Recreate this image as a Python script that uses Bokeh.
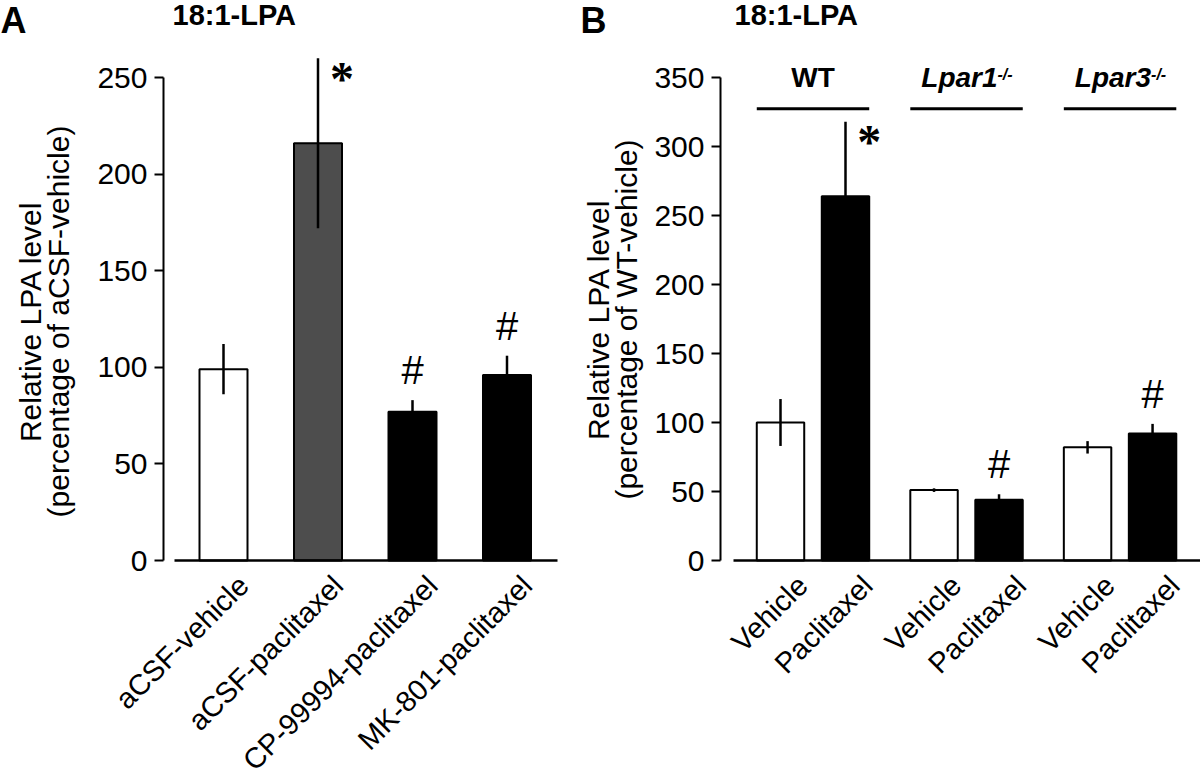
import math
from bokeh.plotting import figure
from bokeh.models import Range1d, FixedTicker, ColumnDataSource, LinearAxis
from bokeh.layouts import row
from bokeh.embed import file_html
from bokeh.resources import INLINE
from bokeh.core.properties import value

# ---------------- data ----------------
TITLE = "18:1-LPA"

A_labels = ["aCSF-vehicle", "aCSF-paclitaxel", "CP-99994-paclitaxel", "MK-801-paclitaxel"]
A_means = [99, 216, 77, 96]
A_sems = [13, 44, 6, 10]
A_marks = ["", "*", "#", "#"]
A_fill = ["white", "#4d4d4d", "black", "black"]
A_yticks = [0, 50, 100, 150, 200, 250]
A_ylabel = ["Relative LPA level", "(percentage of aCSF-vehicle)"]

B_groups = ["WT", "Lpar1", "Lpar3"]
B_group_sup = ["", "-/-", "-/-"]
B_treatments = ["Vehicle", "Paclitaxel"]
B_means = [100, 264, 51, 44, 82, 92]
B_sems = [17, 54, 1.3, 4, 4.5, 7]
B_marks = ["", "*", "", "#", "", "#"]
B_fill = ["white", "black"]
B_yticks = [0, 50, 100, 150, 200, 250, 300, 350]
B_ylabel = ["Relative LPA level", "(percentage of WT-vehicle)"]

# ---------------- layout constants ----------------
FONT = "Liberation Sans"
H = 776
Y0_PX = 560  # pixel row of value 0


class Panel:
    def __init__(self, width, ox, sx, sy):
        self.ox, self.sx, self.sy = ox, sx, sy  # ox: pixel column of x=0
        self.p = figure(width=width, height=H,
                        x_range=Range1d(self.xd(0), self.xd(width)),
                        y_range=Range1d(self.yd(H), self.yd(0)),
                        output_backend="svg", toolbar_location=None,
                        x_axis_location=None, y_axis_location=None, min_border=0)
        self.p.outline_line_color = None
        self.p.grid.visible = False
        self.p.xgrid.grid_line_color = None
        self.p.ygrid.grid_line_color = None
        self.p.background_fill_color = "white"
        self.p.border_fill_color = "white"

    def xd(self, px):
        return (px - self.ox) / self.sx

    def yd(self, py):
        return (Y0_PX - py) / self.sy

    def axes(self, yaxis_px, xbounds_px, yticks):
        p = self.p
        ya = LinearAxis(fixed_location=self.xd(yaxis_px), ticker=FixedTicker(ticks=yticks),
                        bounds=(0, yticks[-1]))
        ya.axis_line_width = 2
        ya.axis_line_color = "black"
        ya.major_tick_line_width = 2
        ya.major_tick_line_color = "black"
        ya.major_tick_out = 9
        ya.major_tick_in = 0
        ya.minor_tick_line_color = None
        ya.major_label_standoff = 7
        ya.major_label_text_font = FONT
        ya.major_label_text_font_size = "30px"
        ya.major_label_text_color = "black"
        p.add_layout(ya, "left")
        xa = LinearAxis(fixed_location=0, ticker=FixedTicker(ticks=[]),
                        bounds=(self.xd(xbounds_px[0]), self.xd(xbounds_px[1])))
        xa.axis_line_width = 2.5
        xa.axis_line_color = "black"
        xa.major_tick_line_color = None
        xa.minor_tick_line_color = None
        xa.major_label_text_font_size = "0px"
        p.add_layout(xa, "below")

    def txt(self, x, y, s, size, style="normal", angle=0.0, align="left",
            baseline="middle", font=FONT):
        self.p.text(x=[x], y=[y], text=[s], text_font=value(font),
                    text_font_size=f"{size}px", text_font_style=style, angle=angle,
                    text_align=align, text_baseline=baseline, text_color="black")

    def bars(self, pos, means, sems, fills, width):
        src = ColumnDataSource(dict(x=pos, top=means, fill=fills,
                                    lo=[m - s for m, s in zip(means, sems)],
                                    hi=[m + s for m, s in zip(means, sems)]))
        self.p.vbar(x="x", top="top", bottom=0, width=width, fill_color="fill",
                    line_color="black", line_width=2, source=src)
        self.p.segment(x0="x", y0="lo", x1="x", y1="hi", line_color="black",
                       line_width=2.5, source=src)

    def marks(self, pos, means, sems, marks, width):
        for i, mk in enumerate(marks):
            top = means[i] + sems[i]
            if mk == "#":
                self.txt(pos[i], top + 30 / self.sy, "#", 40, align="center")
            elif mk == "*":
                self.txt(pos[i] + width / 2, top - 20 / self.sy, "*", 48, style="bold",
                         align="center", font="Liberation Serif")


# ================= Panel A =================
A = Panel(580, ox=223, sx=94.5, sy=1.932)
A_pos = list(range(len(A_labels)))
A_w = 0.508
A.axes(163, (174, 557), A_yticks)
A.bars(A_pos, A_means, A_sems, A_fill, A_w)
A.marks(A_pos, A_means, A_sems, A_marks, A_w)
for i, lab in enumerate(A_labels):
    A.txt(A_pos[i] + 20 / A.sx, A.yd(580), lab, 29, angle=math.pi / 4, align="right")
A.txt(A.xd(0), A.yd(19.5), "A", 36, style="bold")
A.txt(A.xd(172), A.yd(14), TITLE, 29, style="bold")
A.txt(A.xd(30), A.yd(321), A_ylabel[0], 30, angle=math.pi / 2, align="center")
A.txt(A.xd(58), A.yd(321), A_ylabel[1], 30, angle=math.pi / 2, align="center")

# ================= Panel B =================
B = Panel(620, ox=200, sx=65.0, sy=1.38)   # panel starts at page x 580
GAP = 2.362
B_w = 0.73
B_pos = [g * GAP + t for g in range(len(B_groups)) for t in range(len(B_treatments))]
B_fills = [B_fill[t] for g in range(len(B_groups)) for t in range(len(B_treatments))]
B.axes(140, (153, 620), B_yticks)
B.bars(B_pos, B_means, B_sems, B_fills, B_w)
B.marks(B_pos, B_means, B_sems, B_marks, B_w)

LINE_Y = B.yd(108.3)
for g, name in enumerate(B_groups):
    gc = g * GAP + 0.5
    B.p.segment(x0=[g * GAP - B_w / 2], x1=[g * GAP + 1 + B_w / 2], y0=[LINE_Y], y1=[LINE_Y],
                line_color="black", line_width=3)
    if B_group_sup[g]:
        B.txt(gc + 31 / B.sx, B.yd(77), name, 28, style="bold italic", align="right")
        B.txt(gc + 31 / B.sx, B.yd(74), B_group_sup[g], 16, style="bold italic", align="left")
    else:
        B.txt(gc, B.yd(77), name, 28, style="bold", align="center")

for i in range(len(B_pos)):
    lab = B_treatments[i % len(B_treatments)]
    B.txt(B_pos[i] + 22 / B.sx, B.yd(580), lab, 29, angle=math.pi / 4, align="right")

B.txt(B.xd(0), B.yd(19.5), "B", 36, style="bold")
B.txt(B.xd(154), B.yd(14), TITLE, 29, style="bold")
B.txt(B.xd(18), B.yd(319), B_ylabel[0], 30, angle=math.pi / 2, align="center")
B.txt(B.xd(46), B.yd(319), B_ylabel[1], 30, angle=math.pi / 2, align="center")

layout = row(A.p, B.p)
open("out.html", "w").write(file_html(layout, INLINE))
